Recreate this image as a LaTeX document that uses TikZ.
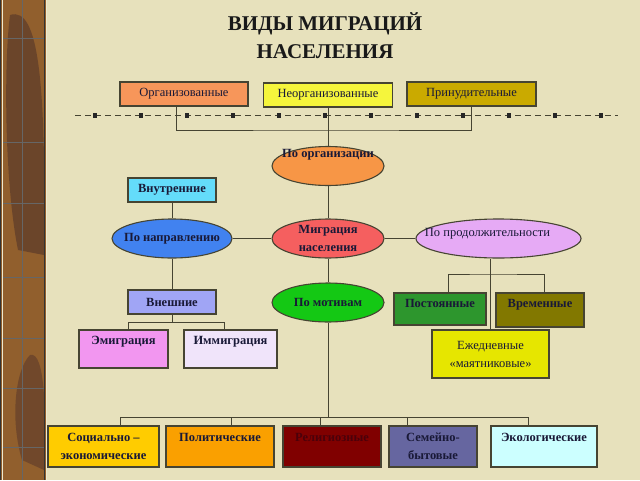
\documentclass[tikz,border=0pt]{standalone}
\usepackage{fontspec}
\setmainfont{Liberation Serif}
\usetikzlibrary{shapes.geometric}
\definecolor{fon}{RGB}{231,225,188}
\definecolor{ink}{RGB}{25,25,55}
\definecolor{rama}{RGB}{70,68,50}
\definecolor{korich}{RGB}{145,95,45}
\definecolor{pyatno}{RGB}{92,58,42}
\definecolor{cOrg}{RGB}{247,150,90}
\definecolor{cNeorg}{RGB}{245,245,60}
\definecolor{cPrin}{RGB}{202,170,0}
\definecolor{cPorg}{RGB}{247,150,70}
\definecolor{cVnut}{RGB}{100,220,250}
\definecolor{cPnap}{RGB}{65,130,240}
\definecolor{cMig}{RGB}{245,95,95}
\definecolor{cPprod}{RGB}{230,170,245}
\definecolor{cPmot}{RGB}{20,200,20}
\definecolor{cVnesh}{RGB}{160,165,245}
\definecolor{cEmig}{RGB}{242,150,240}
\definecolor{cImmig}{RGB}{240,228,250}
\definecolor{cPost}{RGB}{45,150,45}
\definecolor{cVrem}{RGB}{130,120,0}
\definecolor{cEzh}{RGB}{230,230,0}
\definecolor{cSoc}{RGB}{255,204,0}
\definecolor{cPol}{RGB}{250,160,0}
\definecolor{cRel}{RGB}{128,0,0}
\definecolor{cSem}{RGB}{102,102,160}
\definecolor{cEko}{RGB}{204,255,255}
\definecolor{tRel}{RGB}{75,0,10}
\begin{document}
\begin{tikzpicture}[x=1pt,y=-1pt,
    box/.style={draw=rama,line width=1.1pt,minimum width=#1,minimum height=24pt,inner sep=0pt,text=ink,align=center,font=\fontsize{12.5}{18}\selectfont},
    box/.default=90pt,
    oval/.style={ellipse,draw=rama,line width=1.1pt,minimum width=#1,minimum height=39pt,inner sep=0pt},
    lbl/.style={text=ink,align=center,font=\fontsize{12.5}{18}\selectfont\bfseries},
    ln/.style={draw=rama,line width=0.9pt}]
    \useasboundingbox (0,0) rectangle (640,480);
    \fill[fon] (0,0) rectangle (640,480);
    % brown strip on the left
    \fill[korich] (0,0) rectangle (46,480);
    \fill[pyatno,opacity=0.7] (10,15) .. controls (40,5) and (46,90) .. (44,255) -- (18,250) .. controls (4,180) and (4,60) .. (10,15);
    \fill[pyatno,opacity=0.6] (30,355) .. controls (46,350) and (46,420) .. (44,470) -- (22,460) .. controls (10,420) and (15,370) .. (30,355);
    \draw[black!60,line width=0.4pt] (22,0) -- (22,480);
    \foreach \y in {38,142,203,277,338,388,447} \draw[black!60,line width=0.4pt] (2,\y) -- (44,\y);
    \draw[black!80,line width=1pt] (0.5,0) -- (0.5,480) (44.5,0) -- (44.5,480);
    \draw[fon!70!white,line width=0.8pt] (2.5,0) -- (2.5,480) (46.5,0) -- (46.5,480);

    \node[font=\fontsize{21}{28}\selectfont\bfseries,align=center,text=black!90] (title) at (325,36) {ВИДЫ МИГРАЦИЙ\\НАСЕЛЕНИЯ};

    \node[box=128pt,fill=cOrg] (org) at (184,94) {Организованные};
    \node[box=129pt,fill=cNeorg] (neorg) at (328,95) {Неорганизованные};
    \node[box=129pt,fill=cPrin] (prin) at (471.5,94) {Принудительные};
    \draw[ln,dash pattern=on 6pt off 4pt] (75,115) -- (618,115);
    \foreach \k in {0,...,11} \fill[black!85] (93+46*\k,112.5) rectangle ++(4,5);

    \node[oval=112pt,fill=cPorg,label={[lbl,yshift=11pt]center:По организации}] (porg) at (328,166) {};
    \node[oval=112pt,fill=cMig,label={[lbl]center:{Миграция\\населения}}] (mig) at (328,238.5) {};
    \node[oval=120pt,fill=cPnap,label={[lbl]center:По направлению}] (pnap) at (172,238.5) {};
    \node[oval=112pt,fill=cPmot,label={[lbl]center:По мотивам}] (pmot) at (328,302.5) {};
    \node[oval=165pt,fill=cPprod,label={[lbl,font=\fontsize{12.5}{18}\selectfont,xshift=-11pt,yshift=4.5pt]center:По продолжительности}] (pprod) at (498.5,238.5) {};

    \node[box=88pt,fill=cVnut,font=\fontsize{12.5}{18}\selectfont\bfseries] (vnut) at (172,190) {Внутренние};
    \node[box=88pt,fill=cVnesh,font=\fontsize{12.5}{18}\selectfont\bfseries] (vnesh) at (172,302) {Внешние};
    \node[box=89pt,minimum height=38pt,text depth=17pt,fill=cEmig,font=\fontsize{12.5}{18}\selectfont\bfseries] (emig) at (123.5,349) {Эмиграция};
    \node[box=93pt,minimum height=38pt,text depth=17pt,fill=cImmig,font=\fontsize{12.5}{18}\selectfont\bfseries] (immig) at (230.5,349) {Иммиграция};
    \node[box=92pt,minimum height=32pt,text depth=12pt,fill=cPost,font=\fontsize{12.5}{18}\selectfont\bfseries] (post) at (440,309) {Постоянные};
    \node[box=88pt,minimum height=34pt,text depth=13pt,fill=cVrem,font=\fontsize{12.5}{18}\selectfont\bfseries] (vrem) at (540,310) {Временные};
    \node[box=117pt,minimum height=48pt,fill=cEzh] (ezh) at (490.5,354) {Ежедневные\\«маятниковые»};

    \coordinate (tj) at (328,130);
    \draw[ln] ([xshift=-8pt]org.south) |- (tj) -| (prin.south);
    \draw[ln] (neorg) -- (porg);
    \draw[ln] (porg) -- (mig) -- (pmot);
    \draw[ln] (pnap) -- (mig) -- (pprod);
    \draw[ln] (vnut) -- (pnap) -- (vnesh);
    \draw[ln] (vnesh.south) -- ++(0,8) coordinate (vj);
    \draw[ln] ([xshift=4.5pt]emig.north) |- (vj) -| ([xshift=-6.5pt]immig.north);
    \draw[ln] (ezh.north) -- (ezh.north |- pprod.south);
    \coordinate (pj) at (490.5,274);
    \draw[ln] ([xshift=8pt]post.north) |- (pj) -| ([xshift=4pt]vrem.north);

    \coordinate (mj) at (328,418);
    \draw[ln] (pmot) -- (mj);
    \foreach[count=\i] \x/\w/\c/\tc/\dx/\t in {103.5/111/cSoc/ink/16.5/{Социально –\\экономические},
        220/108/cPol/ink/11/{Политические\\},332/98/cRel/tRel/-12/{Религиозные\\},
        433/88/cSem/ink/-26/{Семейно-\\бытовые},544/106/cEko/ink/-16/{Экологические\\}} {
        \node[box=\w pt,minimum height=41pt,fill=\c,text=\tc,font=\fontsize{12.5}{18}\selectfont\bfseries] (b\i) at (\x,446.5) {\strut\t\strut};
        \draw[ln] ([xshift=\dx pt]b\i.north) -- ++(0,-8) coordinate (d\i);
    }
    \draw[ln] (d1) -- (d5);
\end{tikzpicture}
\end{document}
